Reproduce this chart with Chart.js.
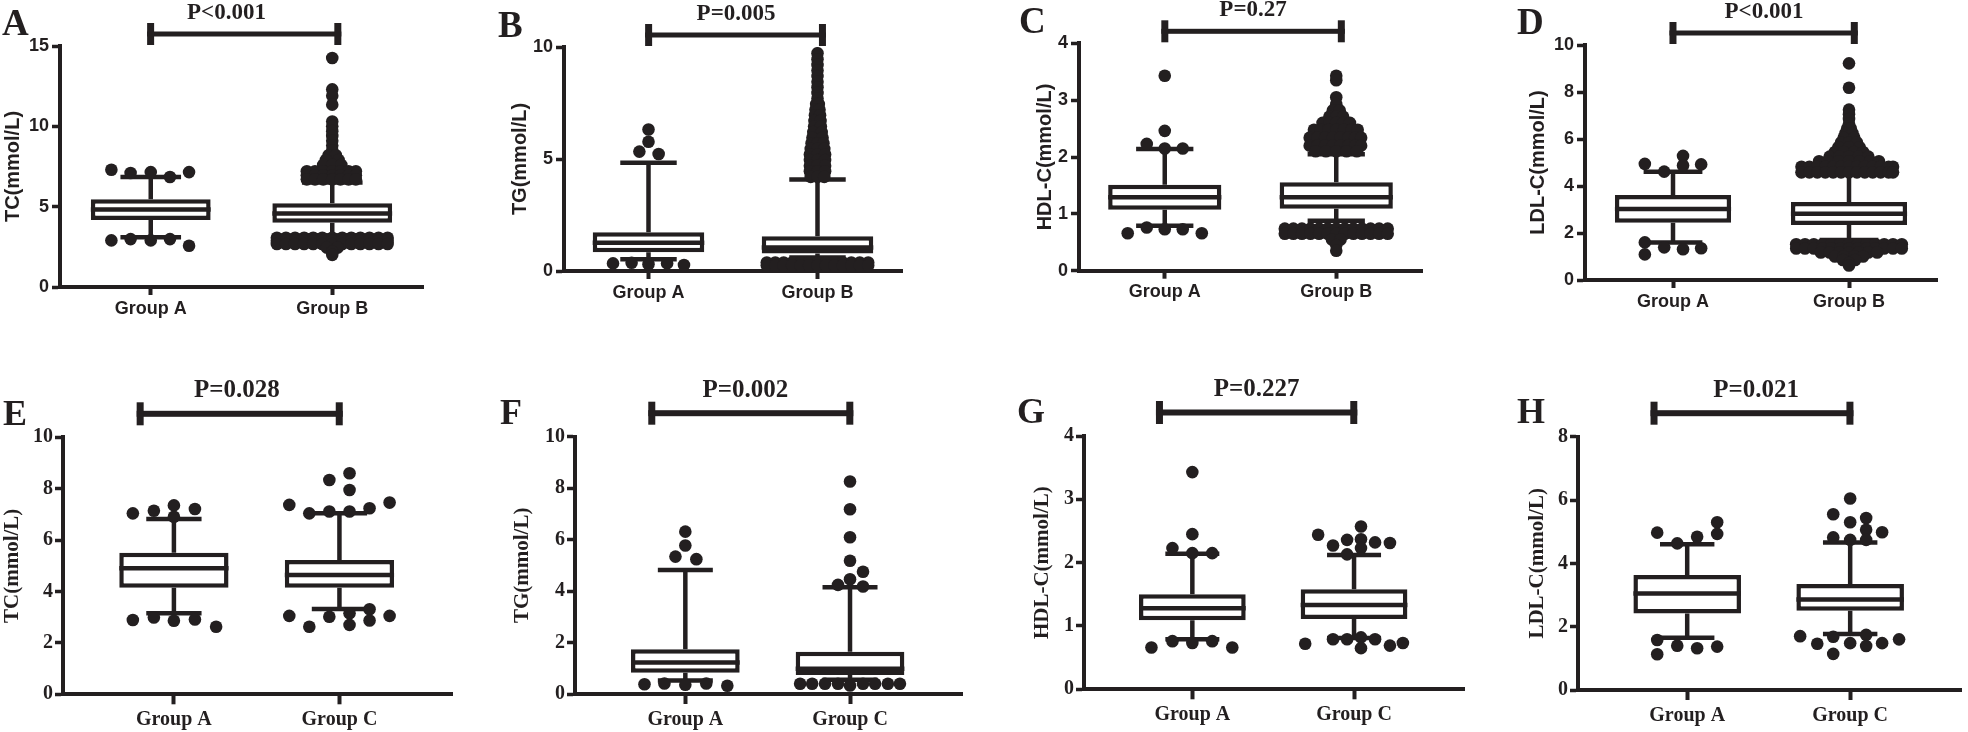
<!DOCTYPE html>
<html><head><meta charset="utf-8">
<script src="https://cdn.jsdelivr.net/npm/chart.js@4.4.1/dist/chart.umd.min.js"></script>
<style>
html,body{margin:0;padding:0;background:#fff;}
body{width:1968px;height:732px;position:relative;overflow:hidden;}
canvas{position:absolute;}
</style></head><body>
<script>
// ---------------- DATA ----------------
// outlier rows: [value, x-offset from group centre (in group units), ...]
// Panel A: TC, Group A vs Group B
const A_cats = ["Group A", "Group B"];
const A_yTicks = [0, 5, 10, 15];
const A_q1 = [4.17, 4.00];
const A_med = [4.83, 4.57];
const A_q3 = [5.46, 5.21];
const A_lo = [3.10, 3.20];
const A_hi = [6.85, 6.50];
const A_outA = [[7.30,-0.217],[7.10,-0.111],[7.15,0,0.211],[6.85,0.106],[2.98,-0.111,0.106],[2.90,-0.217,0],[2.57,0.211]];
const A_outB = [
  [14.25,0],[12.30,0],[11.90,0],[11.35,0],
  [10.30,0],[10.00,0],[9.70,0],[9.40,0],[9.10,0],[8.80,0],[8.50,0],
  [8.20,-0.02,0.02],[7.90,-0.035,0.035],[7.60,-0.05,0,0.05],
  [7.20,-0.14,-0.095,-0.05,0,0.045,0.09,0.13],
  [6.95,-0.14,-0.095,-0.05,0,0.045,0.09,0.13],
  [6.70,-0.14,-0.095,-0.05,0,0.045,0.09,0.13],
  [3.07,-0.305,-0.255,-0.205,-0.155,-0.105,-0.055,0,0.055,0.105,0.155,0.205,0.255,0.305],
  [2.88,-0.305,-0.255,-0.205,-0.155,-0.105,-0.055,0,0.055,0.105,0.155,0.205,0.255,0.305],
  [2.68,-0.305,-0.255,-0.205,-0.155,-0.105,-0.055,0,0.055,0.105,0.155,0.205,0.255,0.305],
  [2.45,-0.03,0.03],[2.20,0],[2.00,0]
];
const A_p = "P<0.001";

// Panel B: TG, Group A vs Group B
const B_cats = ["Group A", "Group B"];
const B_yTicks = [0, 5, 10];
const B_q1 = [0.84, 0.78];
const B_med = [1.26, 1.05];
const B_q3 = [1.73, 1.55];
const B_lo = [0.53, 0.60];
const B_hi = [4.83, 4.08];
const B_outA = [[6.32,0],[5.77,0],[5.33,-0.054],[5.22,0.06],[0.37,-0.10],[0.34,-0.21,0.11],[0.30,0],[0.27,0.21]];
const B_outB = [
  [9.72,0],[9.45,0],[9.20,0],[8.95,0],[8.70,0],[8.45,0],[8.20,0],[7.95,0],[7.70,0],
  [7.45,-0.008,0.008],[7.20,-0.012,0.012],[6.95,-0.015,0.015],[6.70,-0.018,0.018],[6.45,-0.02,0.02],
  [6.20,-0.025,0.025],[5.95,-0.03,0.03],[5.70,-0.035,0,0.035],[5.45,-0.04,0,0.04],[5.20,-0.045,0,0.045],
  [4.95,-0.045,0,0.045],[4.70,-0.045,0,0.045],[4.45,-0.045,0,0.045],[4.20,-0.04,0,0.04],
  [0.38,-0.30,-0.25,-0.20,-0.15,-0.10,-0.05,0,0.05,0.10,0.15,0.20,0.25,0.30],
  [0.25,-0.30,-0.25,-0.20,-0.15,-0.10,-0.05,0,0.05,0.10,0.15,0.20,0.25,0.30]
];
const B_p = "P=0.005";

// Panel C: HDL-C, Group A vs Group B
const C_cats = ["Group A", "Group B"];
const C_yTicks = [0, 1, 2, 3, 4];
const C_q1 = [1.07, 1.09];
const C_med = [1.29, 1.29];
const C_q3 = [1.51, 1.555];
const C_lo = [0.79, 0.88];
const C_hi = [2.14, 2.05];
const C_outA = [[3.43,0],[2.46,0],[2.23,-0.105],[2.15,0,0.105],[0.76,-0.105],[0.73,0,0.105],[0.66,-0.216,0.216]];
const C_outB = [
  [3.43,0],[3.35,0],[3.05,0],[2.93,0],[2.82,-0.02,0.02],[2.71,-0.04,0,0.04],[2.60,-0.08,-0.04,0,0.04,0.08],
  [2.48,-0.13,-0.09,-0.045,0,0.045,0.09,0.125],
  [2.34,-0.155,-0.11,-0.065,-0.02,0.025,0.07,0.11,0.145],
  [2.20,-0.155,-0.11,-0.065,-0.02,0.025,0.07,0.11,0.145],
  [2.10,-0.12,-0.06,0,0.06,0.12],
  [0.74,-0.30,-0.25,-0.20,-0.15,-0.10,-0.05,0,0.05,0.10,0.15,0.20,0.25,0.30],
  [0.65,-0.30,-0.25,-0.20,-0.15,-0.10,-0.05,0,0.05,0.10,0.15,0.20,0.25,0.30],
  [0.55,-0.025,0.025],[0.45,0],[0.35,0]
];
const C_p = "P=0.27";

// Panel D: LDL-C, Group A vs Group B
const D_cats = ["Group A", "Group B"];
const D_yTicks = [0, 2, 4, 6, 8, 10];
const D_q1 = [2.44, 2.34];
const D_med = [3.02, 2.82];
const D_q3 = [3.62, 3.32];
const D_lo = [1.60, 1.70];
const D_hi = [4.61, 4.50];
const D_outA = [[5.28,0.057],[4.94,-0.16],[4.92,0.16],[4.87,0.057],[4.61,-0.05],[1.60,-0.16],[1.39,-0.05],[1.35,0.16],[1.31,0.057],[1.09,-0.16]];
const D_outB = [
  [9.22,0],[8.18,0],[7.25,0],[7.05,0],[6.85,0],[6.65,0],[6.45,-0.01,0.01],[6.25,-0.02,0.02],[6.05,-0.03,0.03],
  [5.85,-0.045,0,0.045],[5.65,-0.06,0,0.06],[5.45,-0.08,-0.03,0.03,0.08],[5.25,-0.11,-0.055,0,0.055,0.11],
  [5.05,-0.17,-0.12,-0.06,0,0.06,0.12,0.17],
  [4.82,-0.27,-0.225,-0.18,-0.135,-0.09,-0.045,0,0.045,0.09,0.135,0.18,0.225,0.25],
  [4.58,-0.27,-0.225,-0.18,-0.135,-0.09,-0.045,0,0.045,0.09,0.135,0.18,0.225,0.25],
  [1.52,-0.30,-0.25,-0.20,-0.15,-0.10,-0.05,0,0.05,0.10,0.15,0.20,0.25,0.30],
  [1.34,-0.30,-0.25,-0.20,-0.15,-0.10,-0.05,0,0.05,0.10,0.15,0.20,0.25,0.30],
  [1.17,-0.16,-0.11,-0.055,0,0.055,0.11,0.16],
  [1.00,-0.08,-0.03,0.03,0.08],[0.85,-0.035,0.035],[0.72,0],[0.62,0]
];
const D_p = "P<0.001";

// Panel E: TC, Group A vs Group C
const E_cats = ["Group A", "Group C"];
const E_yTicks = [0, 2, 4, 6, 8, 10];
const E_q1 = [4.15, 4.15];
const E_med = [4.90, 4.64];
const E_q3 = [5.51, 5.23];
const E_lo = [3.15, 3.32];
const E_hi = [6.82, 7.04];
const E_outA = [[7.35,0],[7.21,0.127],[7.14,-0.121],[7.04,-0.248],[6.91,0],[2.99,-0.121],[2.91,0.127],[2.89,-0.248],[2.86,0],[2.63,0.255]];
const E_outC = [[8.60,0.061],[8.34,-0.061],[7.95,0.061],[7.46,0.303],[7.37,-0.303],[7.24,0.182],[7.11,-0.061,0.061],[7.04,-0.182],
  [3.31,0.182],[3.15,0.061],[3.05,-0.303,0.303],[3.02,-0.061],[2.87,0.182],[2.70,0.061],[2.63,-0.182]];
const E_p = "P=0.028";

// Panel F: TG, Group A vs Group C
const F_cats = ["Group A", "Group C"];
const F_yTicks = [0, 2, 4, 6, 8, 10];
const F_q1 = [0.83, 0.74];
const F_med = [1.22, 0.98];
const F_q3 = [1.74, 1.64];
const F_lo = [0.52, 0.55];
const F_hi = [4.82, 4.15];
const F_outA = [[6.31,0],[5.77,0],[5.34,-0.06],[5.24,0.067],[0.41,-0.127,0.127],[0.38,-0.248],[0.36,0],[0.32,0.255]];
const F_outC = [[8.26,0],[7.18,0],[6.09,0],[5.18,0],[4.75,0.079],[4.46,0],[4.24,-0.073],[4.18,0.079],
  [0.40,-0.303,-0.230,-0.152,-0.073,0.079,0.152,0.230,0.303],[0.33,0]];
const F_p = "P=0.002";

// Panel G: HDL-C, Group A vs Group C
const G_cats = ["Group A", "Group C"];
const G_yTicks = [0, 1, 2, 3, 4];
const G_q1 = [1.09, 1.11];
const G_med = [1.28, 1.33];
const G_q3 = [1.50, 1.58];
const G_lo = [0.79, 0.81];
const G_hi = [2.14, 2.12];
const G_outA = [[3.43,0],[2.45,0],[2.23,-0.123],[2.15,0,0.123],[0.76,-0.123,0.123],[0.73,0],[0.66,-0.253,0.247]];
const G_outC = [[2.57,0.043],[2.44,-0.222],[2.37,0.043],[2.36,-0.043],[2.32,0.130],[2.31,0.222],[2.27,-0.130],[2.23,0.043],[2.13,-0.043],
  [0.82,0.043],[0.79,-0.130,-0.043,0.130],[0.73,0.302],[0.72,-0.302],[0.69,0.222],[0.65,0.043]];
const G_p = "P=0.227";

// Panel H: LDL-C, Group A vs Group C
const H_cats = ["Group A", "Group C"];
const H_yTicks = [0, 2, 4, 6, 8];
const H_q1 = [2.42, 2.50];
const H_med = [3.05, 2.86];
const H_q3 = [3.63, 3.35];
const H_lo = [1.65, 1.77];
const H_hi = [4.60, 4.66];
const H_outA = [[5.30,0.184],[4.97,-0.184],[4.93,0.184],[4.84,0.061],[4.63,-0.061],[1.58,-0.184],[1.40,-0.061],[1.37,0.184],[1.32,0.061],[1.13,-0.184]];
const H_outC = [[6.05,0],[5.55,-0.104],[5.43,0.098],[5.30,0],[5.06,0.098],[4.98,0.196],[4.82,-0.104],[4.74,0,0.098],
  [1.74,0.098],[1.70,-0.307],[1.68,-0.104],[1.60,0.300],[1.48,0,0.196],[1.46,-0.202],[1.39,0.098],[1.14,-0.104]];
const H_p = "P=0.021";

// ---------------- STYLE / LAYOUT ----------------
const BLACK = '#231f20';
const LW = 4.5, LW_AX = 4, R_OUT = 6.3, BOX_W = 0.66, CAP_W = 0.167;
const ROW = {
  1: {canvasTop:0, canvasBottom:335, xMin:0.5, xMax:2.5,
      tickFont:{family:'Liberation Sans', weight:'bold', size:18},
      titleFont:{family:'Liberation Sans', weight:'bold', size:20},
      xTickLen:8, yTickLen:8, xPad:3, yPad:3, pSize:23, pDy:27, brDy:12, brLine:5, capH:22, letterSize:37, br:[0.98,2.05]},
  2: {canvasTop:366, canvasBottom:732, xMin:0.33, xMax:2.68,
      tickFont:{family:'Liberation Serif', weight:'bold', size:20},
      titleFont:{family:'Liberation Serif', weight:'bold', size:21},
      xTickLen:10, yTickLen:8, xPad:3.5, yPad:2, pSize:25, pDy:40, brDy:23.5, brLine:6, capH:23, letterSize:36, br:[0.775,2.02]}
};
const panels = [
  {L:'A', row:1, cats:A_cats, yTicks:A_yTicks, yTitle:'TC(mmol/L)', q1:A_q1, med:A_med, q3:A_q3, lo:A_lo, hi:A_hi, out:[A_outA,A_outB], p:A_p,
   frame:{titleX:13, left:60, right:423, top:46, bottom:287}, lDx:-58, lDy:-11, pX:1.417},
  {L:'B', row:1, cats:B_cats, yTicks:B_yTicks, yTitle:'TG(mmol/L)', q1:B_q1, med:B_med, q3:B_q3, lo:B_lo, hi:B_hi, out:[B_outA,B_outB], p:B_p,
   frame:{titleX:520, left:564, right:902, top:47, bottom:271}, lDx:-66, lDy:-10, pX:1.518},
  {L:'C', row:1, cats:C_cats, yTicks:C_yTicks, yTitle:'HDL-C(mmol/L)', q1:C_q1, med:C_med, q3:C_q3, lo:C_lo, hi:C_hi, out:[C_outA,C_outB], p:C_p,
   frame:{titleX:1045, left:1079, right:1422, top:43.3, bottom:270.7}, lDx:-60, lDy:-10.3, pX:1.515},
  {L:'D', row:1, cats:D_cats, yTicks:D_yTicks, yTitle:'LDL-C(mmol/L)', q1:D_q1, med:D_med, q3:D_q3, lo:D_lo, hi:D_hi, out:[D_outA,D_outB], p:D_p,
   frame:{titleX:1538, left:1585, right:1937, top:45, bottom:280}, lDx:-68, lDy:-11, pX:1.517},
  {L:'E', row:2, cats:E_cats, yTicks:E_yTicks, yTitle:'TC(mmol/L)', q1:E_q1, med:E_med, q3:E_q3, lo:E_lo, hi:E_hi, out:[E_outA,E_outC], p:E_p,
   frame:{titleX:13, left:63, right:452, top:437.3, bottom:694.3}, lDx:-60, lDy:-12.3, pX:1.38},
  {L:'F', row:2, cats:F_cats, yTicks:F_yTicks, yTitle:'TG(mmol/L)', q1:F_q1, med:F_med, q3:F_q3, lo:F_lo, hi:F_hi, out:[F_outA,F_outC], p:F_p,
   frame:{titleX:523, left:575, right:962, top:436.7, bottom:694}, lDx:-75, lDy:-12.7, pX:1.364},
  {L:'G', row:2, cats:G_cats, yTicks:G_yTicks, yTitle:'HDL-C(mmol/L)', q1:G_q1, med:G_med, q3:G_q3, lo:G_lo, hi:G_hi, out:[G_outA,G_outC], p:G_p,
   frame:{titleX:1043, left:1084, right:1464, top:436, bottom:689.3}, lDx:-67, lDy:-13, pX:1.398},
  {L:'H', row:2, cats:H_cats, yTicks:H_yTicks, yTitle:'LDL-C(mmol/L)', q1:H_q1, med:H_med, q3:H_q3, lo:H_lo, hi:H_hi, out:[H_outA,H_outC], p:H_p,
   frame:{titleX:1538, left:1578, right:1961, top:436.7, bottom:690}, lDx:-61, lDy:-13.7, pX:1.423}
];

// ---------------- HELPERS ----------------
function outlierPoints(rows, centre) {
  const pts = [];
  rows.forEach(r => { for (let i = 1; i < r.length; i++) pts.push({x: centre + r[i], y: r[0]}); });
  return pts;
}
function whiskerPoints(p) {
  const pts = [];
  [0, 1].forEach(i => {
    const c = i + 1;
    pts.push({x:c, y:p.q3[i]}, {x:c, y:p.hi[i]}, {x:c, y:null},
             {x:c - CAP_W, y:p.hi[i]}, {x:c + CAP_W, y:p.hi[i]}, {x:c, y:null},
             {x:c, y:p.q1[i]}, {x:c, y:p.lo[i]}, {x:c, y:null},
             {x:c - CAP_W, y:p.lo[i]}, {x:c + CAP_W, y:p.lo[i]}, {x:c, y:null});
  });
  return pts;
}
function medianPoints(p) {
  const pts = [];
  [0, 1].forEach(i => {
    const c = i + 1;
    pts.push({x:c - BOX_W / 2, y:p.med[i]}, {x:c + BOX_W / 2, y:p.med[i]}, {x:c, y:null});
  });
  return pts;
}

const annotPlugin = {
  id: 'annot',
  afterDraw(chart, args, o) {
    const {ctx, chartArea} = chart;
    const x = chart.scales.x;
    ctx.save();
    ctx.fillStyle = BLACK;
    ctx.textBaseline = 'alphabetic';
    ctx.font = 'bold ' + o.letterSize + 'px "Liberation Serif"';
    ctx.textAlign = 'left';
    ctx.fillText(o.letter, chartArea.left + o.lDx, chartArea.top + o.lDy);
    ctx.font = 'bold ' + o.pSize + 'px "Liberation Serif"';
    ctx.textAlign = 'center';
    ctx.fillText(o.text, x.getPixelForValue(o.pX), chartArea.top - o.pDy);
    const x1 = x.getPixelForValue(o.br[0]), x2 = x.getPixelForValue(o.br[1]);
    const yb = chartArea.top - o.brDy;
    ctx.fillRect(x1, yb - o.brLine / 2, x2 - x1, o.brLine);
    ctx.fillRect(x1, yb - o.capH / 2, 7, o.capH);
    ctx.fillRect(x2 - 7, yb - o.capH / 2, 7, o.capH);
    ctx.restore();
  }
};

panels.forEach(p => {
  const R = ROW[p.row];
  const f = p.frame;
  const half = R.titleFont.size * 1.2 / 2;
  const axisLeft = f.titleX - half;              // left edge of the y-axis box
  const letterLeft = f.left + p.lDx;             // panel letter position
  const cl = Math.max(0, Math.floor(Math.min(axisLeft, letterLeft) - 4));
  const ct = R.canvasTop;
  const cw = Math.round(f.right + 8 - cl);
  const ch = R.canvasBottom - ct;
  const cv = document.createElement('canvas');
  cv.width = cw; cv.height = ch;
  cv.style.left = cl + 'px'; cv.style.top = ct + 'px';
  cv.style.width = cw + 'px'; cv.style.height = ch + 'px';
  document.body.appendChild(cv);
  const padLeft = Math.max(0, axisLeft - cl);
  const yW = f.left - cl - padLeft;
  const padTop = f.top - ct;
  const xH = ch - (f.bottom - ct);
  const padRight = cw - (f.right - cl);
  const yMax = p.yTicks[p.yTicks.length - 1];

  new Chart(cv, {
    type: 'bar',
    data: {
      datasets: [
        {type:'scatter', data: outlierPoints(p.out[0], 1).concat(outlierPoints(p.out[1], 2)),
         pointRadius:R_OUT, pointHoverRadius:R_OUT, pointBackgroundColor:BLACK, pointBorderWidth:0, showLine:false, order:1},
        {type:'line', data: medianPoints(p), borderColor:BLACK, borderWidth:LW, pointRadius:0, spanGaps:false, fill:false, order:2},
        {type:'bar', data: [0, 1].map(i => ({x:i + 1, y:[p.q1[i], p.q3[i]]})),
         backgroundColor:'#ffffff', borderColor:BLACK, borderWidth:LW, borderSkipped:false,
         barPercentage:BOX_W, categoryPercentage:1, order:3},
        {type:'line', data: whiskerPoints(p), borderColor:BLACK, borderWidth:LW, pointRadius:0, spanGaps:false, fill:false, order:4}
      ]
    },
    options: {
      responsive:false, animation:false, events:[],
      layout:{padding:{left:padLeft, top:padTop, right:padRight, bottom:0}},
      plugins:{
        legend:{display:false}, tooltip:{enabled:false},
        annot:{letter:p.L, lDx:p.lDx, lDy:p.lDy, letterSize:R.letterSize, text:p.p, pX:p.pX, pSize:R.pSize, pDy:R.pDy,
               br:R.br, brDy:R.brDy, brLine:R.brLine, capH:R.capH}
      },
      scales:{
        x:{type:'linear', min:R.xMin, max:R.xMax, offset:false,
           afterBuildTicks: s => { s.ticks = [{value:1}, {value:2}]; },
           afterFit: s => { s.height = xH; },
           ticks:{callback: v => p.cats[Math.round(v) - 1], font:R.tickFont, color:BLACK, padding:R.xPad, maxRotation:0, autoSkip:false},
           grid:{display:true, offset:false, drawOnChartArea:false, drawTicks:true, tickLength:R.xTickLen, tickWidth:LW_AX, tickColor:BLACK},
           border:{display:true, color:BLACK, width:LW_AX}},
        y:{type:'linear', min:0, max:yMax,
           afterBuildTicks: s => { s.ticks = p.yTicks.map(v => ({value:v})); },
           afterFit: s => { s.width = yW; },
           ticks:{font:R.tickFont, color:BLACK, padding:R.yPad},
           grid:{display:true, drawOnChartArea:false, drawTicks:true, tickLength:R.yTickLen, tickWidth:3.5, tickColor:BLACK},
           border:{display:true, color:BLACK, width:LW_AX},
           title:{display:true, text:p.yTitle, font:R.titleFont, color:BLACK, padding:0}}
      }
    },
    plugins:[annotPlugin]
  });
});
</script>
</body></html>
